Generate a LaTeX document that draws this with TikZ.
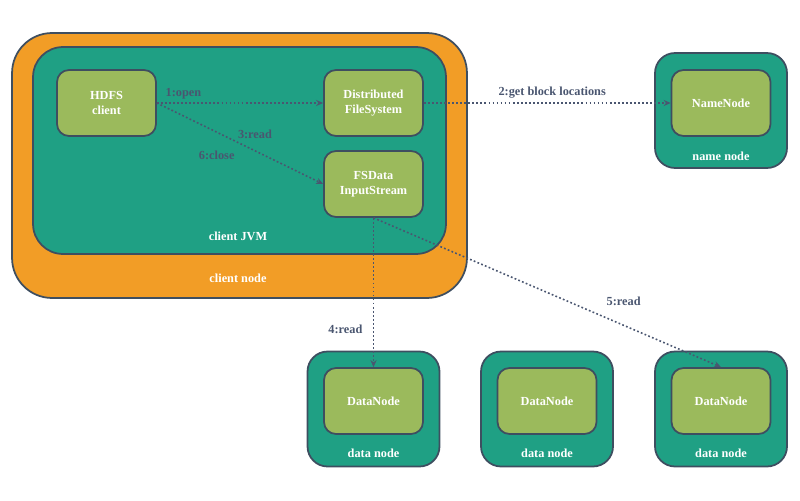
\documentclass[tikz,border=0pt]{standalone}
\usepackage{fontspec}
\setmainfont{Liberation Serif}
\usetikzlibrary{arrows.meta}

\definecolor{hostorange}{HTML}{F29D26}
\definecolor{jvmteal}{HTML}{1FA084}
\definecolor{procgreen}{HTML}{9BBA5C}
\definecolor{edgeslate}{HTML}{3E4E60}
\definecolor{msgslate}{HTML}{4A5670}

\tikzset{
	proc/.style={rectangle,draw=edgeslate,line width=1pt,fill=procgreen,rounded corners=0.24cm,
		minimum width=1.98cm,minimum height=1.32cm,align=center,text=white,
		font=\bfseries\fontsize{7}{8.5}\selectfont},
	host/.style={rectangle,draw=edgeslate,line width=1pt,fill=jvmteal,rounded corners=0.4cm,
		minimum width=2.64cm,minimum height=2.3cm},
	hostlabel/.style={text=white,font=\bfseries\fontsize{7}{8.5}\selectfont},
	msg/.style={draw=msgslate,line width=0.9pt,dash pattern=on 1pt off 1.3pt,
		-{Stealth[length=4pt,width=3.5pt]}},
	msglabel/.style={text=msgslate,font=\bfseries\fontsize{7}{8.5}\selectfont}
}

\begin{document}
\begin{tikzpicture}[x=0.02cm,y=-0.02cm]

	\useasboundingbox (0,0) rectangle (800,500);

	% client node and its JVM
	\node[rectangle,draw=edgeslate,line width=1pt,fill=hostorange,rounded corners=0.8cm,
		minimum width=9.1cm,minimum height=5.3cm] (cnode) at (239.5,165.5) {};
	\node[rectangle,draw=edgeslate,line width=1pt,fill=jvmteal,rounded corners=0.6cm,
		minimum width=8.26cm,minimum height=4.14cm] (jvm) at (239.5,150.5) {};
	\node[hostlabel] (cnodelbl) at (238,278) {client node};
	\node[hostlabel] (jvmlbl) at (238,236) {client JVM};

	\node[proc] (hdfs) at (106.5,103) {HDFS\\client};
	\node[proc] (dfs) at (373.5,103) {Distributed\\FileSystem};
	\node[proc] (fsin) at (373.5,184) {FSData\\InputStream};

	% name node
	\node[host] (nnhost) at (721,110.5) {};
	\node[proc] (nn) at (721,103) {NameNode};
	\node[hostlabel] (nnlbl) at (721,156) {name node};

	% data nodes
	\foreach \i/\x in {1/373.5,2/547,3/721} {
		\node[host] (dnhost\i) at (\x,409) {};
		\node[proc] (dn\i) at (\x,401) {DataNode};
		\node[hostlabel] (dnlbl\i) at (\x,453) {data node};
	}

	\draw[msg] (hdfs.east) -- node[msglabel,pos=0.16,yshift=5pt] {1:open} (dfs.west);
	\draw[msg] (dfs.east) -- node[msglabel,pos=0.52,yshift=5.7pt] {2:get block locations} (nn.west);
	\draw[msg] (hdfs.east) -- node[msglabel,pos=0.59,yshift=9.6pt] {3:read}
		node[msglabel,pos=0.36,yshift=-13pt] {6:close} (fsin.west);
	\draw[msg] (fsin.south) -- node[msglabel,pos=0.75,xshift=-16pt] {4:read} (dn1.north);
	\draw[msg] (fsin.south) -- node[msglabel,pos=0.72,yshift=13.4pt] {5:read} (dn3.north);

\end{tikzpicture}
\end{document}
